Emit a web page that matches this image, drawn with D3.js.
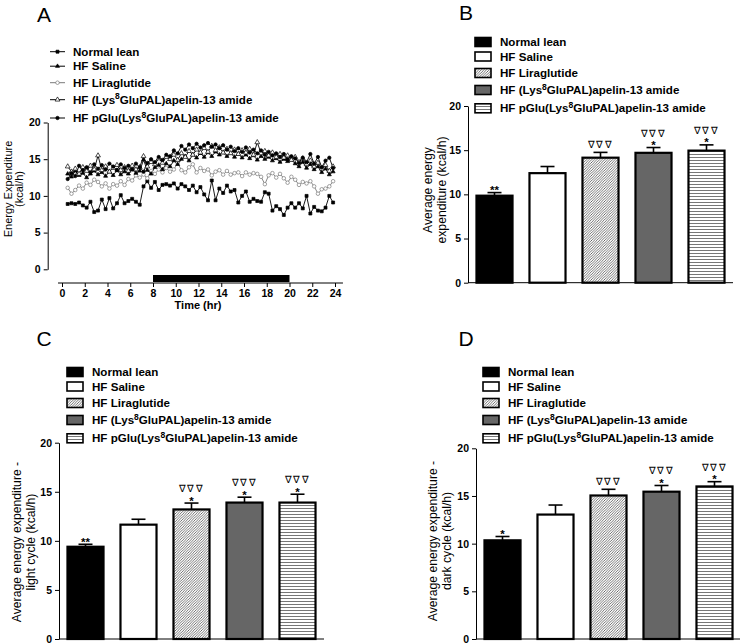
<!DOCTYPE html>
<html><head><meta charset="utf-8">
<script src="https://cdn.jsdelivr.net/npm/d3@7"></script>
<style>
body{margin:0;background:#fff}
svg{display:block}
text{font-family:"Liberation Sans",Arial,sans-serif}
</style>
</head><body>
<svg id="c" width="740" height="644"></svg>
<script>
// ---------- DATA ----------
const groups = ["Normal lean","HF Saline","HF Liraglutide","HF (Lys8GluPAL)apelin-13 amide","HF pGlu(Lys8GluPAL)apelin-13 amide"];
const hourTicks = [0,2,4,6,8,10,12,14,16,18,20,22,24];
const yTicks = [0,5,10,15,20];
const darkPhase = [8,20];
// sampling times (hr) of panel A, every 20 min from 0.5 h
const sampleStart = 0.5, sampleStep = 1/3;

const leanSeries = [8.9,9.0,8.9,9.1,8.7,8.4,9.2,7.8,8.0,9.5,8.2,9.7,8.3,9.0,10.1,9.0,9.3,9.6,9.2,8.8,
 11.3,12.0,11.1,11.9,10.8,11.5,11.6,11.4,11.7,11.0,11.6,11.3,10.8,11.4,10.5,11.2,10.2,9.4,12.1,9.4,
 11.0,10.4,11.4,10.6,10.8,9.1,10.0,10.6,9.2,9.6,9.3,9.2,10.5,10.3,8.0,8.6,8.2,7.4,8.4,9.0,
 8.4,9.0,8.3,10.0,7.6,8.5,8.0,7.9,8.4,10.0,9.1];
const salineSeries = [13.0,12.6,13.4,12.8,13.1,12.5,13.0,13.4,12.9,13.2,12.7,13.3,12.8,13.5,12.9,13.3,13.0,13.6,13.1,13.4,
 14.9,13.5,13.0,13.9,14.2,13.6,14.4,14.0,14.8,14.3,15.0,15.4,14.8,15.6,15.2,15.8,15.3,15.9,15.4,16.0,
 15.6,15.9,15.4,15.8,15.3,15.7,15.2,15.6,15.1,15.5,14.9,15.4,15.0,15.3,14.8,15.1,14.6,15.0,14.7,14.9,
 14.4,14.0,14.6,13.8,14.3,13.6,14.0,13.2,13.7,12.9,13.3];
const liraSeries = [11.1,10.3,10.8,11.4,11.0,11.8,11.5,12.2,11.9,11.3,11.7,11.0,11.6,11.4,12.0,11.5,12.3,12.1,12.8,12.5,
 12.9,12.4,13.4,13.0,13.6,13.2,13.8,13.3,13.6,14.5,13.5,13.2,13.9,14.3,13.2,13.8,13.4,13.6,12.8,13.3,
 13.5,12.9,13.4,12.9,13.1,13.2,12.7,13.2,12.9,13.1,13.0,12.6,11.6,12.8,13.1,12.5,13.0,12.4,11.8,12.6,
 12.2,11.5,11.9,11.7,12.0,11.3,10.3,10.9,11.0,11.3,12.0];
const lysSeries = [14.0,13.3,13.7,13.0,13.9,13.4,14.1,13.6,15.5,13.5,14.0,13.3,13.8,14.2,13.5,13.9,13.4,14.1,13.6,13.9,
 15.4,14.0,14.6,14.3,15.1,14.5,15.3,15.0,15.6,14.9,15.8,15.3,16.1,15.6,16.3,15.9,16.5,16.0,16.8,16.2,
 16.6,15.9,16.4,15.8,16.3,15.7,16.2,15.9,16.4,15.6,17.3,15.8,16.1,15.5,15.9,15.3,15.7,15.2,15.5,14.9,
 15.3,14.6,15.1,14.3,14.8,14.0,14.5,13.7,14.2,13.4,14.0];
const pgluSeries = [12.3,13.1,12.7,14.1,13.5,13.9,13.2,14.3,13.7,14.2,13.6,14.4,14.0,13.5,14.3,13.8,14.1,13.6,14.4,13.9,
 13.3,14.5,15.0,14.6,15.3,14.9,15.6,15.4,16.2,15.8,16.8,16.3,17.0,16.5,17.1,16.6,16.9,17.2,16.7,17.0,
 16.5,16.9,16.3,16.7,16.1,16.5,16.0,16.6,15.9,16.3,15.8,16.2,15.6,16.0,15.5,15.8,15.3,15.7,15.0,15.4,
 15.1,14.5,15.2,14.6,15.7,14.4,15.3,13.9,14.8,15.2,13.8];

const avgMean  = [9.85,12.4,14.15,14.7,14.95];
const avgSem   = [0.35,0.75,0.6,0.6,0.65];
const avgStars = ["**","","","*","*"];
const avgTri   = [0,0,1,1,1];

const lightMean  = [9.4,11.65,13.2,13.9,13.9];
const lightSem   = [0.25,0.55,0.65,0.55,0.85];
const lightStars = ["**","","*","*","*"];
const lightTri   = [0,0,1,1,1];

const darkMean  = [10.35,13.05,15.05,15.45,16.0];
const darkSem   = [0.4,1.0,0.65,0.65,0.5];
const darkStars = ["*","","","*","*"];
const darkTri   = [0,0,1,1,1];

// ---------- DRAW ----------
const svg = d3.select("#c");
svg.append("rect").attr("width",740).attr("height",644).attr("fill","#fff");

const defs = svg.append("defs");
const diag = defs.append("pattern").attr("id","diag").attr("patternUnits","userSpaceOnUse")
  .attr("width",2.6).attr("height",2.6);
diag.append("rect").attr("width",2.6).attr("height",2.6).attr("fill","#fff");
diag.append("path").attr("d","M-1,1 L1,-1 M0,2.6 L2.6,0 M1.6,3.6 L3.6,1.6").attr("stroke","#444").attr("stroke-width",0.75);
const horiz = defs.append("pattern").attr("id","horiz").attr("patternUnits","userSpaceOnUse")
  .attr("width",4).attr("height",3);
horiz.append("rect").attr("width",4).attr("height",3).attr("fill","#fff");
horiz.append("rect").attr("y",1).attr("width",4).attr("height",1).attr("fill","#777");

const fills = ["#000","#fff","url(#diag)","#666","url(#horiz)"];

function labelText(sel, name){
  const parts = name.split("Lys8");
  if(parts.length===1){ sel.text(name); return; }
  sel.append("tspan").text(parts[0]+"Lys");
  sel.append("tspan").attr("dy",-4.5).attr("font-size","8.5px").text("8");
  sel.append("tspan").attr("dy",4.5).text(parts[1]);
}

function styleAxis(g){
  g.selectAll("path.domain").attr("stroke","#000").attr("stroke-width",1);
  g.selectAll(".tick line").attr("stroke","#000");
  g.selectAll(".tick text").attr("font-family","Liberation Sans, Arial, sans-serif")
    .attr("font-size","10.5px").attr("font-weight","bold").attr("fill","#000");
}

function panelLetter(t,x,y){
  svg.append("text").attr("x",x).attr("y",y).attr("text-anchor","middle")
    .attr("font-size","21px").attr("fill","#000").text(t);
}

function yTitle(lines,x0,dx,yc,fs){
  lines.forEach((l,i)=>{
    svg.append("text").attr("transform",`translate(${x0+i*dx},${yc}) rotate(-90)`)
      .attr("text-anchor","middle").attr("dy","0.35em").attr("font-size",fs).text(l);
  });
}

// ----- Panel A -----
const xA = d3.scaleLinear().domain([0,24]).range([62,335]);
const yA = d3.scaleLinear().domain([0,20]).range([269.3,122.5]);
const hours = leanSeries.map((_,i)=>sampleStart+i*sampleStep);

panelLetter("A",44,22);
const gyA = svg.append("g").attr("transform","translate(47.7,0)")
  .call(d3.axisLeft(yA).tickValues(yTicks).tickSize(4).tickSizeOuter(0));
styleAxis(gyA);
const gxA = svg.append("g").attr("transform","translate(0,283)")
  .call(d3.axisBottom(xA).tickValues(hourTicks).tickSize(4).tickSizeOuter(0).tickPadding(3));
styleAxis(gxA);
gxA.select("path.domain").remove();
svg.append("line").attr("x1",xA(-0.35)).attr("x2",xA(24.7)).attr("y1",283).attr("y2",283).attr("stroke","#000");
svg.append("rect").attr("x",xA(darkPhase[0])).attr("width",xA(darkPhase[1])-xA(darkPhase[0]))
  .attr("y",275).attr("height",7).attr("fill","#000");
svg.append("text").attr("x",198).attr("y",309).attr("text-anchor","middle")
  .attr("font-size","11px").attr("font-weight","bold").text("Time (hr)");
yTitle(["Energy Expenditure","(kcal/h)"],8,11,189,"11px");

const seriesA = [
  {data:leanSeries, color:"#000", sym:d3.symbolSquare, size:9, fill:"#000"},
  {data:salineSeries, color:"#000", sym:d3.symbolTriangle, size:7, fill:"#000"},
  {data:liraSeries, color:"#7a7a7a", sym:d3.symbolCircle, size:10, fill:"#fff"},
  {data:lysSeries, color:"#000", sym:d3.symbolTriangle, size:10, fill:"#fff"},
  {data:pgluSeries, color:"#000", sym:d3.symbolCircle, size:9, fill:"#000"}
];
const lineA = d3.line().x((d,i)=>xA(hours[i])).y(d=>yA(d));
const drawOrder = [0,2,1,3,4];
drawOrder.forEach(k=>{
  const s = seriesA[k];
  svg.append("path").attr("d",lineA(s.data)).attr("fill","none").attr("stroke",s.color).attr("stroke-width",0.9);
});
drawOrder.forEach(k=>{
  const s = seriesA[k];
  svg.append("g").selectAll("path").data(s.data).join("path")
    .attr("transform",(d,i)=>`translate(${xA(hours[i])},${yA(d)})`)
    .attr("d",d3.symbol(s.sym,s.size)).attr("fill",s.fill).attr("stroke",s.color).attr("stroke-width",0.7);
});
const legOffsets = [0,14.5,31,48,66.3];
groups.forEach((g,i)=>{
  const y = 51.7+legOffsets[i], s = seriesA[i];
  svg.append("line").attr("x1",50).attr("x2",65).attr("y1",y).attr("y2",y).attr("stroke",s.color);
  svg.append("path").attr("transform",`translate(57.5,${y})`).attr("d",d3.symbol(s.sym,s.size))
    .attr("fill",s.fill).attr("stroke",s.color).attr("stroke-width",0.7);
  const t = svg.append("text").attr("x",73).attr("y",y).attr("dy","0.35em")
    .attr("font-size","11.6px").attr("font-weight","bold");
  labelText(t,g);
});

// ----- Bar panels -----
function barPanel(c){
  const y = d3.scaleLinear().domain([0,20]).range([c.y0,c.y20]);
  const x = d3.scaleBand().domain(groups).range([c.ax,c.ax+265]).paddingInner(0.32).paddingOuter(0.16);
  panelLetter(c.letter,c.lx,c.ly);
  const gy = svg.append("g").attr("transform",`translate(${c.ax},0)`)
    .call(d3.axisLeft(y).tickValues(yTicks).tickSize(4).tickSizeOuter(0));
  styleAxis(gy);
  svg.append("line").attr("x1",c.ax).attr("x2",c.ax+265).attr("y1",c.y0).attr("y2",c.y0).attr("stroke","#000");
  yTitle(c.title,c.tx,14,c.ty,"12.2px");
  groups.forEach((g,i)=>{
    const v = c.mean[i], e = c.sem[i];
    const bx = x(g), bw = x.bandwidth(), cx = bx+bw/2;
    svg.append("rect").attr("x",bx).attr("y",y(v)).attr("width",bw).attr("height",c.y0-y(v))
      .attr("fill",fills[i]).attr("stroke","#000").attr("stroke-width",2.2);
    const capY = y(v+e);
    svg.append("line").attr("x1",cx).attr("x2",cx).attr("y1",y(v)).attr("y2",capY).attr("stroke","#000").attr("stroke-width",1.6);
    svg.append("line").attr("x1",cx-7).attr("x2",cx+7).attr("y1",capY).attr("y2",capY).attr("stroke","#000").attr("stroke-width",1.6);
    let top = capY;
    if(c.stars[i]){
      svg.append("text").attr("x",cx).attr("y",capY+1.5).attr("text-anchor","middle")
        .attr("font-size","11.5px").attr("font-weight","bold").text(c.stars[i]);
      top = capY-7;
    }
    if(c.tri[i]){
      svg.append("text").attr("x",cx).attr("y",top-4).attr("text-anchor","middle")
        .attr("font-family","DejaVu Sans").attr("font-size","9.5px").attr("letter-spacing","1.5px").text("∇∇∇");
    }
  });
  groups.forEach((g,i)=>{
    const yy = c.legY+legOffsets[i];
    svg.append("rect").attr("x",c.legX).attr("y",yy-4.5).attr("width",16).attr("height",9)
      .attr("fill",fills[i]).attr("stroke","#000").attr("stroke-width",1.6);
    const t = svg.append("text").attr("x",c.legX+25).attr("y",yy).attr("dy","0.35em")
      .attr("font-size","11.6px").attr("font-weight","bold");
    labelText(t,g);
  });
}

barPanel({letter:"B",lx:466,ly:20,ax:468,y0:282.7,y20:106,mean:avgMean,sem:avgSem,stars:avgStars,tri:avgTri,
  legX:475,legY:42,title:["Average energy","expenditure (kcal/h)"],tx:428,ty:190});
barPanel({letter:"C",lx:44,ly:346,ax:59,y0:639,y20:442.7,mean:lightMean,sem:lightSem,stars:lightStars,tri:lightTri,
  legX:67,legY:372,title:["Average energy expenditure -","light cycle (kcal/h)"],tx:17,ty:542});
barPanel({letter:"D",lx:466,ly:346,ax:476,y0:639,y20:448.3,mean:darkMean,sem:darkSem,stars:darkStars,tri:darkTri,
  legX:483,legY:372,title:["Average energy expenditure -","dark cycle (kcal/h)"],tx:433,ty:541});
</script>
</body></html>
